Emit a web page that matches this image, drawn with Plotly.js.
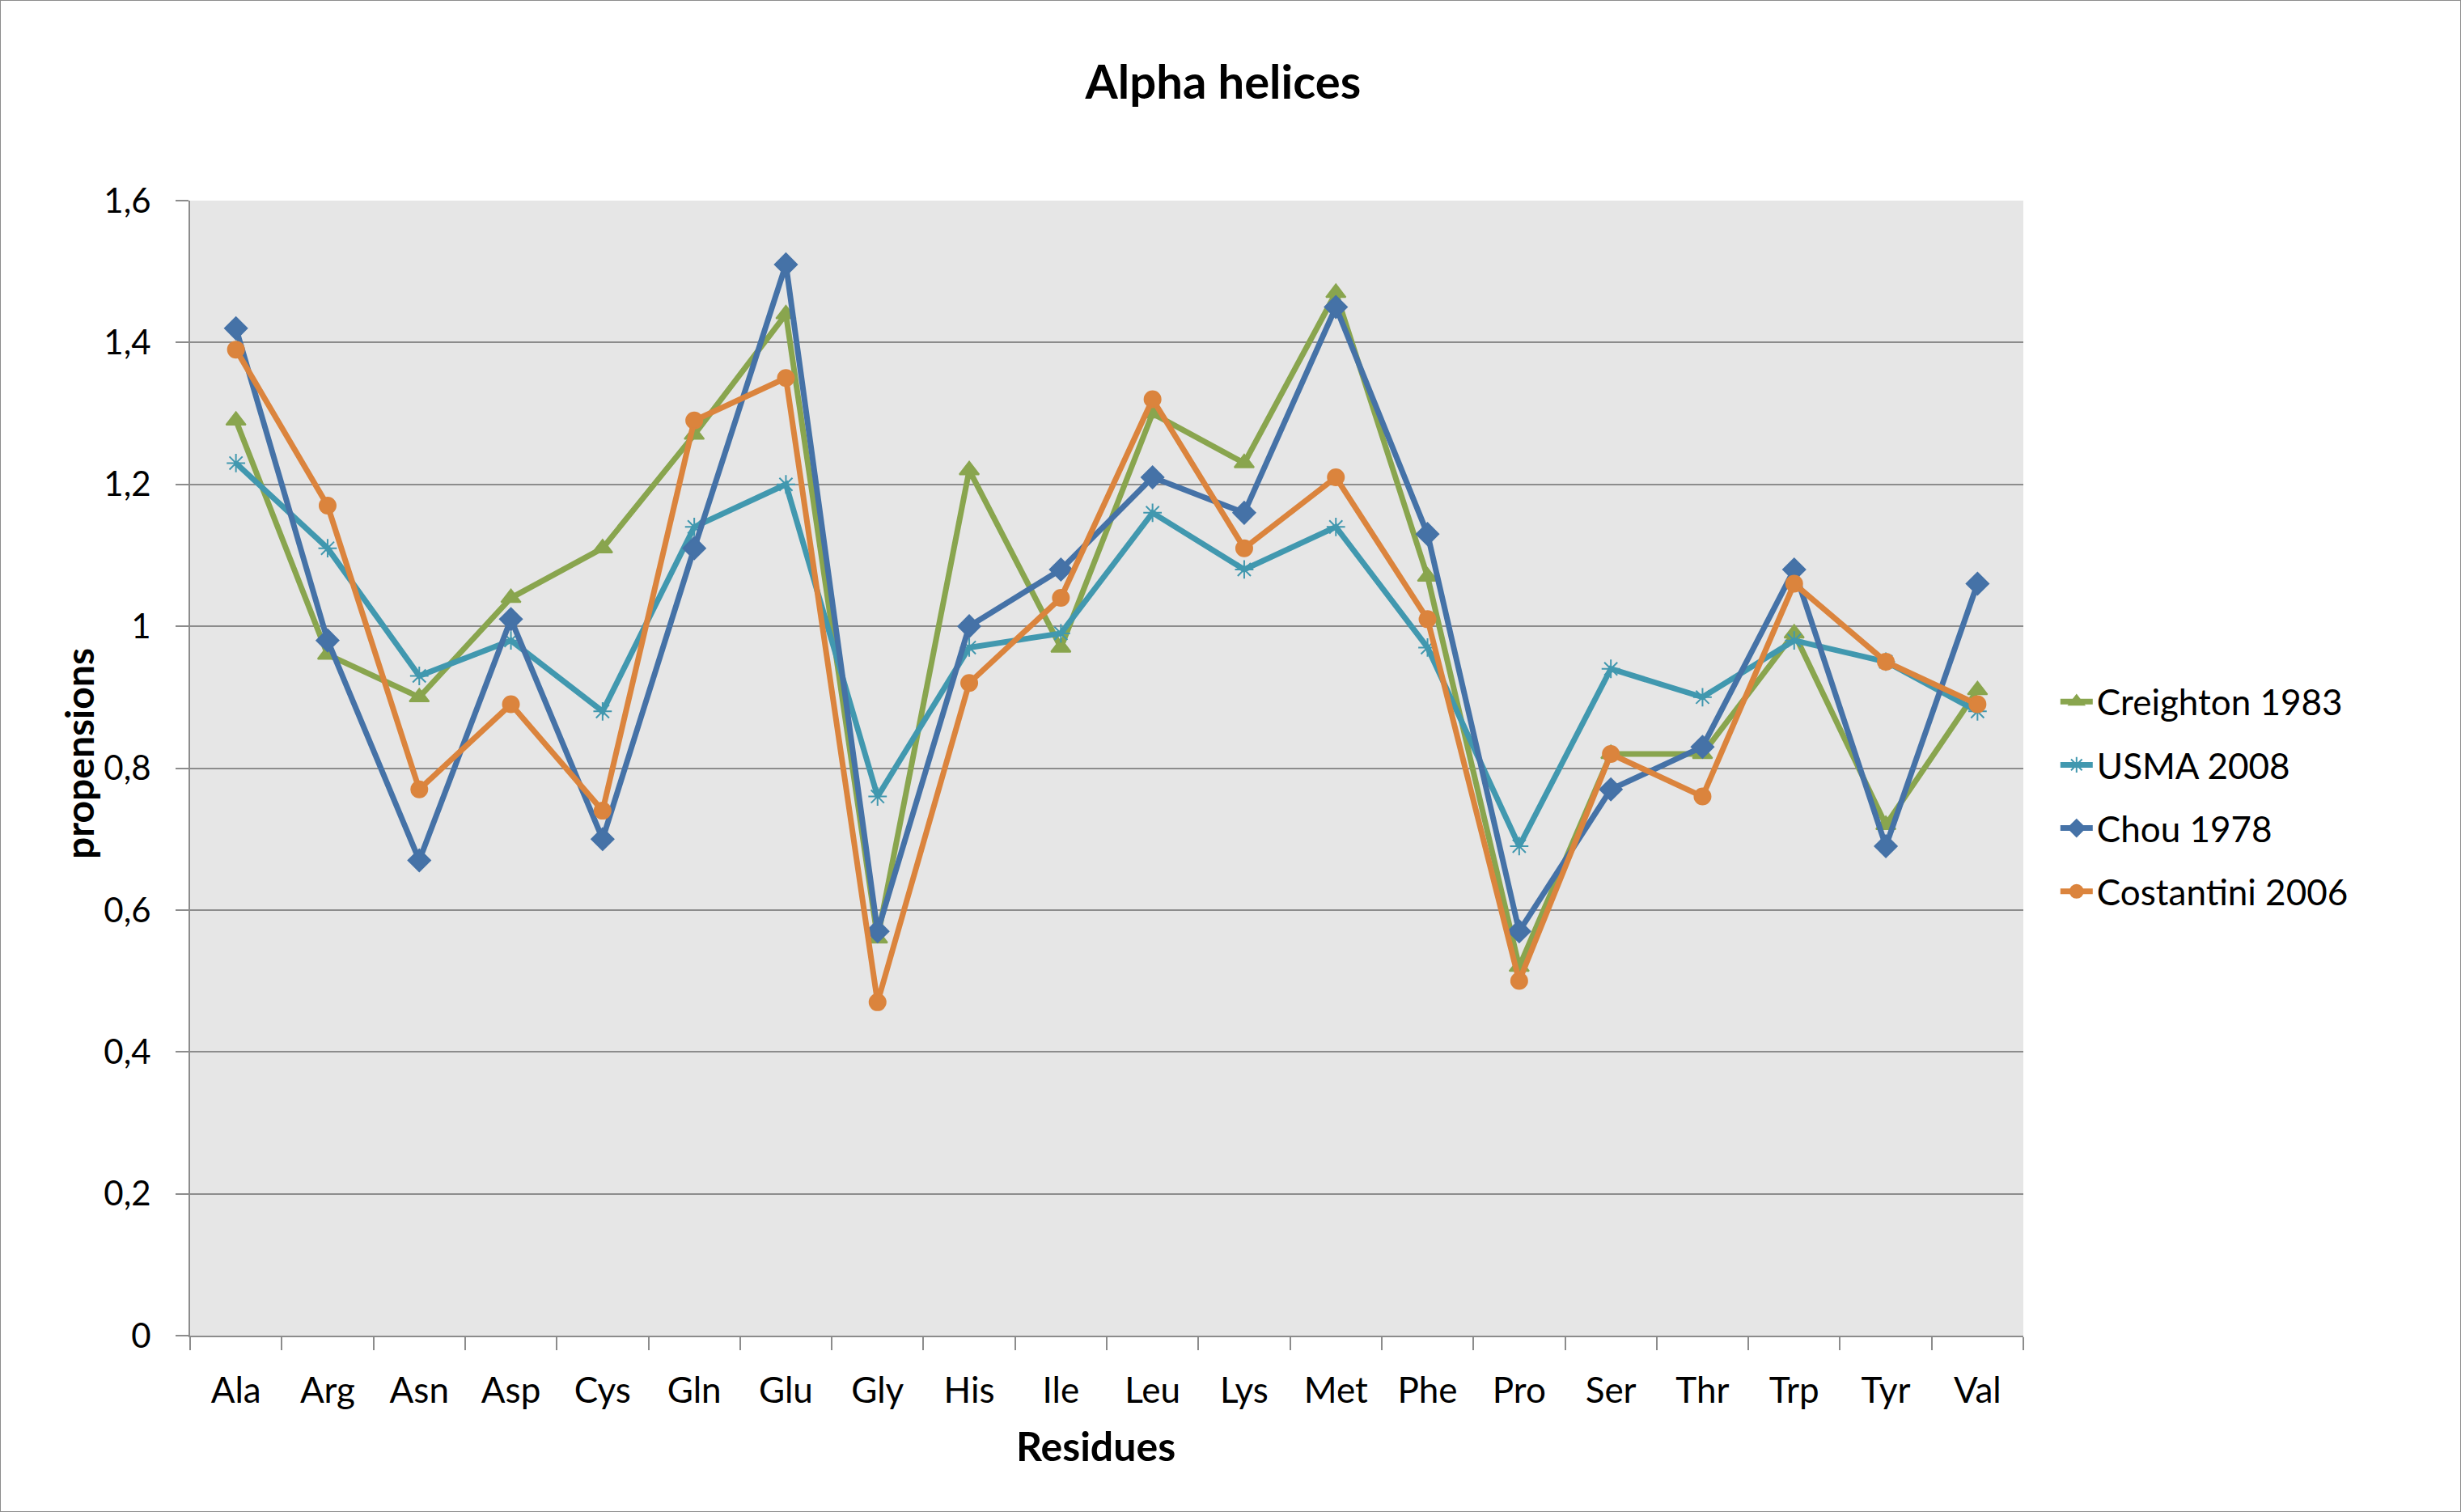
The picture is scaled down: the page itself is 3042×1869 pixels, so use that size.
<!DOCTYPE html>
<html>
<head>
<meta charset="utf-8">
<script src="https://cdn.plot.ly/plotly-3.0.1.min.js"></script>
<style>
  body { margin: 0; background: #fff; }
  #chart { width: 3040px; height: 1867px; border: 1px solid #8c8c8c; }
</style>
</head>
<body>
<div id="chart"></div>
<script>
// residues on the x axis
var residues = ["Ala", "Arg", "Asn", "Asp", "Cys", "Gln", "Glu", "Gly", "His", "Ile",
                "Leu", "Lys", "Met", "Phe", "Pro", "Ser", "Thr", "Trp", "Tyr", "Val"];

// propensions
var creighton1983 = [1.29, 0.96, 0.90, 1.04, 1.11, 1.27, 1.44, 0.56, 1.22, 0.97,
                     1.30, 1.23, 1.47, 1.07, 0.52, 0.82, 0.82, 0.99, 0.72, 0.91];
var usma2008 = [1.23, 1.11, 0.93, 0.98, 0.88, 1.14, 1.20, 0.76, 0.97, 0.99,
                1.16, 1.08, 1.14, 0.97, 0.69, 0.94, 0.90, 0.98, 0.95, 0.88];
var chou1978 = [1.42, 0.98, 0.67, 1.01, 0.70, 1.11, 1.51, 0.57, 1.00, 1.08,
                1.21, 1.16, 1.45, 1.13, 0.57, 0.77, 0.83, 1.08, 0.69, 1.06];
var costantini2006 = [1.39, 1.17, 0.77, 0.89, 0.74, 1.29, 1.35, 0.47, 0.92, 1.04,
                      1.32, 1.11, 1.21, 1.01, 0.50, 0.82, 0.76, 1.06, 0.95, 0.89];

var font = "Lato, 'Open Sans', sans-serif";

function series(name, y, color, symbol, size) {
  return {
    x: residues,
    y: y,
    name: name,
    legendgroup: name,
    type: "scatter",
    mode: "lines+markers",
    line: {color: color, width: 7},
    marker: {symbol: symbol, size: size, color: color, line: {color: color, width: 2}}
  };
}

var data = [
  series("Creighton 1983", creighton1983, "#89A54E", "triangle-up", 21),
  series("USMA 2008", usma2008, "#4198AF", "asterisk-open", 19),
  series("Chou 1978", chou1978, "#4572A7", "diamond", 21),
  series("Costantini 2006", costantini2006, "#DB843D", "circle", 20)
];

var layout = {
  width: 3040,
  height: 1867,
  paper_bgcolor: "#ffffff",
  plot_bgcolor: "#E6E6E6",
  separators: ", ",
  font: {family: font, color: "#000", size: 42},
  margin: {l: 234, r: 540, t: 247, b: 217},
  title: {
    text: "<b>Alpha helices</b>",
    font: {family: font, size: 58, color: "#000"},
    x: 0.497, xanchor: "center",
    y: 0.946, yanchor: "middle"
  },
  xaxis: {
    type: "category",
    range: [-0.5, 19.5],
    showline: true, linecolor: "#8c8c8c", linewidth: 2,
    showgrid: false,
    ticks: "outside", tickson: "boundaries", ticklen: 16, tickwidth: 2, tickcolor: "#8c8c8c",
    ticklabelstandoff: 28,
    tickfont: {family: font, size: 44},
    automargin: false
  },
  yaxis: {
    range: [0, 1.6],
    dtick: 0.2,
    showline: true, linecolor: "#8c8c8c", linewidth: 2,
    showgrid: true, gridcolor: "#8c8c8c", gridwidth: 2,
    zeroline: false,
    ticks: "outside", ticklen: 16, tickwidth: 2, tickcolor: "#8c8c8c",
    ticklabelstandoff: 22,
    tickfont: {family: font, size: 42},
    automargin: false
  },
  // axis titles placed as in the reference (slightly off-centre)
  annotations: [
    {text: "<b>Residues</b>", xref: "paper", yref: "paper", x: 0.494, y: -0.097,
     xanchor: "center", yanchor: "middle", showarrow: false, font: {family: font, size: 50}},
    {text: "<b>propensions</b>", xref: "paper", yref: "paper", x: -0.061, y: 0.513,
     xanchor: "center", yanchor: "middle", textangle: -90, showarrow: false,
     font: {family: font, size: 48}}
  ],
  showlegend: true,
  legend: {
    x: 1.018, xanchor: "left",
    y: 0.475, yanchor: "middle",
    font: {family: font, size: 44},
    tracegroupgap: 18,
    itemwidth: 40
  }
};

Plotly.newPlot("chart", data, layout, {displayModeBar: false, staticPlot: true});
</script>
</body>
</html>
